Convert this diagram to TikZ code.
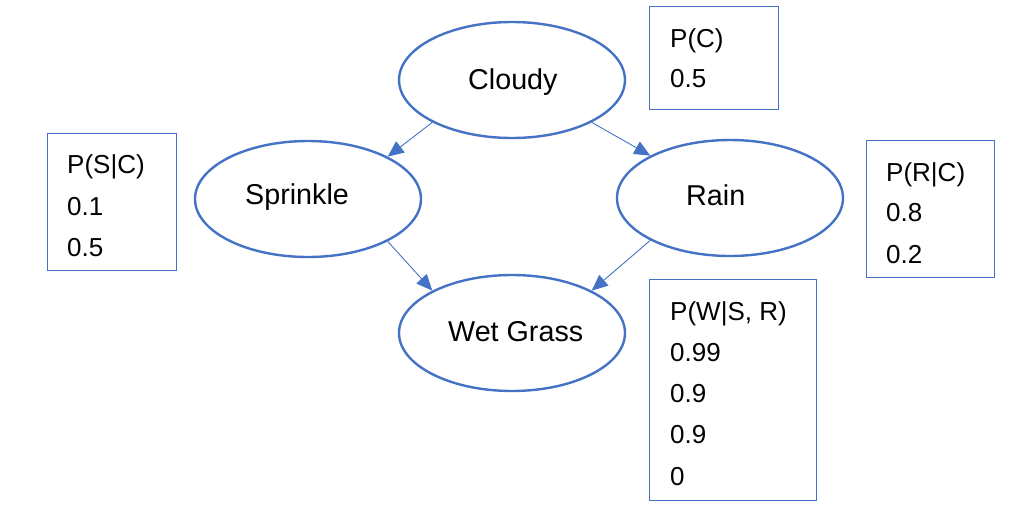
\documentclass[tikz,border=0pt]{standalone}
\usepackage{fontspec}
\setmainfont{Liberation Sans}
\usetikzlibrary{arrows.meta,shapes.geometric}
\definecolor{ob}{HTML}{4472C4}
\tikzset{
  ell/.style={draw=ob, line width=2.4pt, ellipse, minimum width=226pt, minimum height=116pt, inner sep=0pt},
  tbox/.style={draw=ob, line width=1.4pt, rectangle, inner sep=0pt, anchor=north west},
  ntext/.style={anchor=base west, inner sep=0pt, font=\fontsize{28.7}{34}\selectfont},
  btext/.style={anchor=base west, inner sep=0pt, font=\fontsize{26}{31}\selectfont},
  conn/.style={draw=ob, line width=0.9pt, -{Triangle[length=16pt,width=14pt]}}
}
\begin{document}
\begin{tikzpicture}[x=1pt,y=-1pt]
\useasboundingbox (0,0) rectangle (1028,523);
% ellipses
\node[ell] (c) at (512,80) {};
\node[ell] (s) at (308,199) {};
\node[ell] (r) at (730,198) {};
\node[ell] (w) at (512,333) {};
\node[ntext] (ct) at (468,89) {Cloudy};
\node[ntext] (st) at (245,204) {Sprinkle};
\node[ntext] (rt) at (686,205) {Rain};
\node[ntext] (wt) at (448,341) {Wet Grass};
% connectors
\draw[conn] (c.208) -- (s.28);
\draw[conn] (c.332) -- (r.152);
\draw[conn] (s.332) -- (w.152);
\draw[conn] (r.208) -- (w.28);
% tables
\node[tbox, minimum width=129pt, minimum height=103pt] (bc) at (649,6) {};
\node[btext] (bc1) at (670,47) {P(C)};
\node[btext] (bc2) at (670,87) {0.5};
\node[tbox, minimum width=129pt, minimum height=137pt] (bs) at (47,133) {};
\node[btext] (bs1) at (67,173) {P(S|C)};
\node[btext] (bs2) at (67,215) {0.1};
\node[btext] (bs3) at (67,256) {0.5};
\node[tbox, minimum width=128pt, minimum height=137pt] (br) at (866,140) {};
\node[btext] (br1) at (886,181) {P(R|C)};
\node[btext] (br2) at (886,221) {0.8};
\node[btext] (br3) at (886,263) {0.2};
\node[tbox, minimum width=167pt, minimum height=221pt] (bw) at (649,279) {};
\node[btext] (bw1) at (670,320) {P(W|S, R)};
\node[btext] (bw2) at (670,361) {0.99};
\node[btext] (bw3) at (670,402) {0.9};
\node[btext] (bw4) at (670,443) {0.9};
\node[btext] (bw5) at (670,485) {0};
\end{tikzpicture}
\end{document}
